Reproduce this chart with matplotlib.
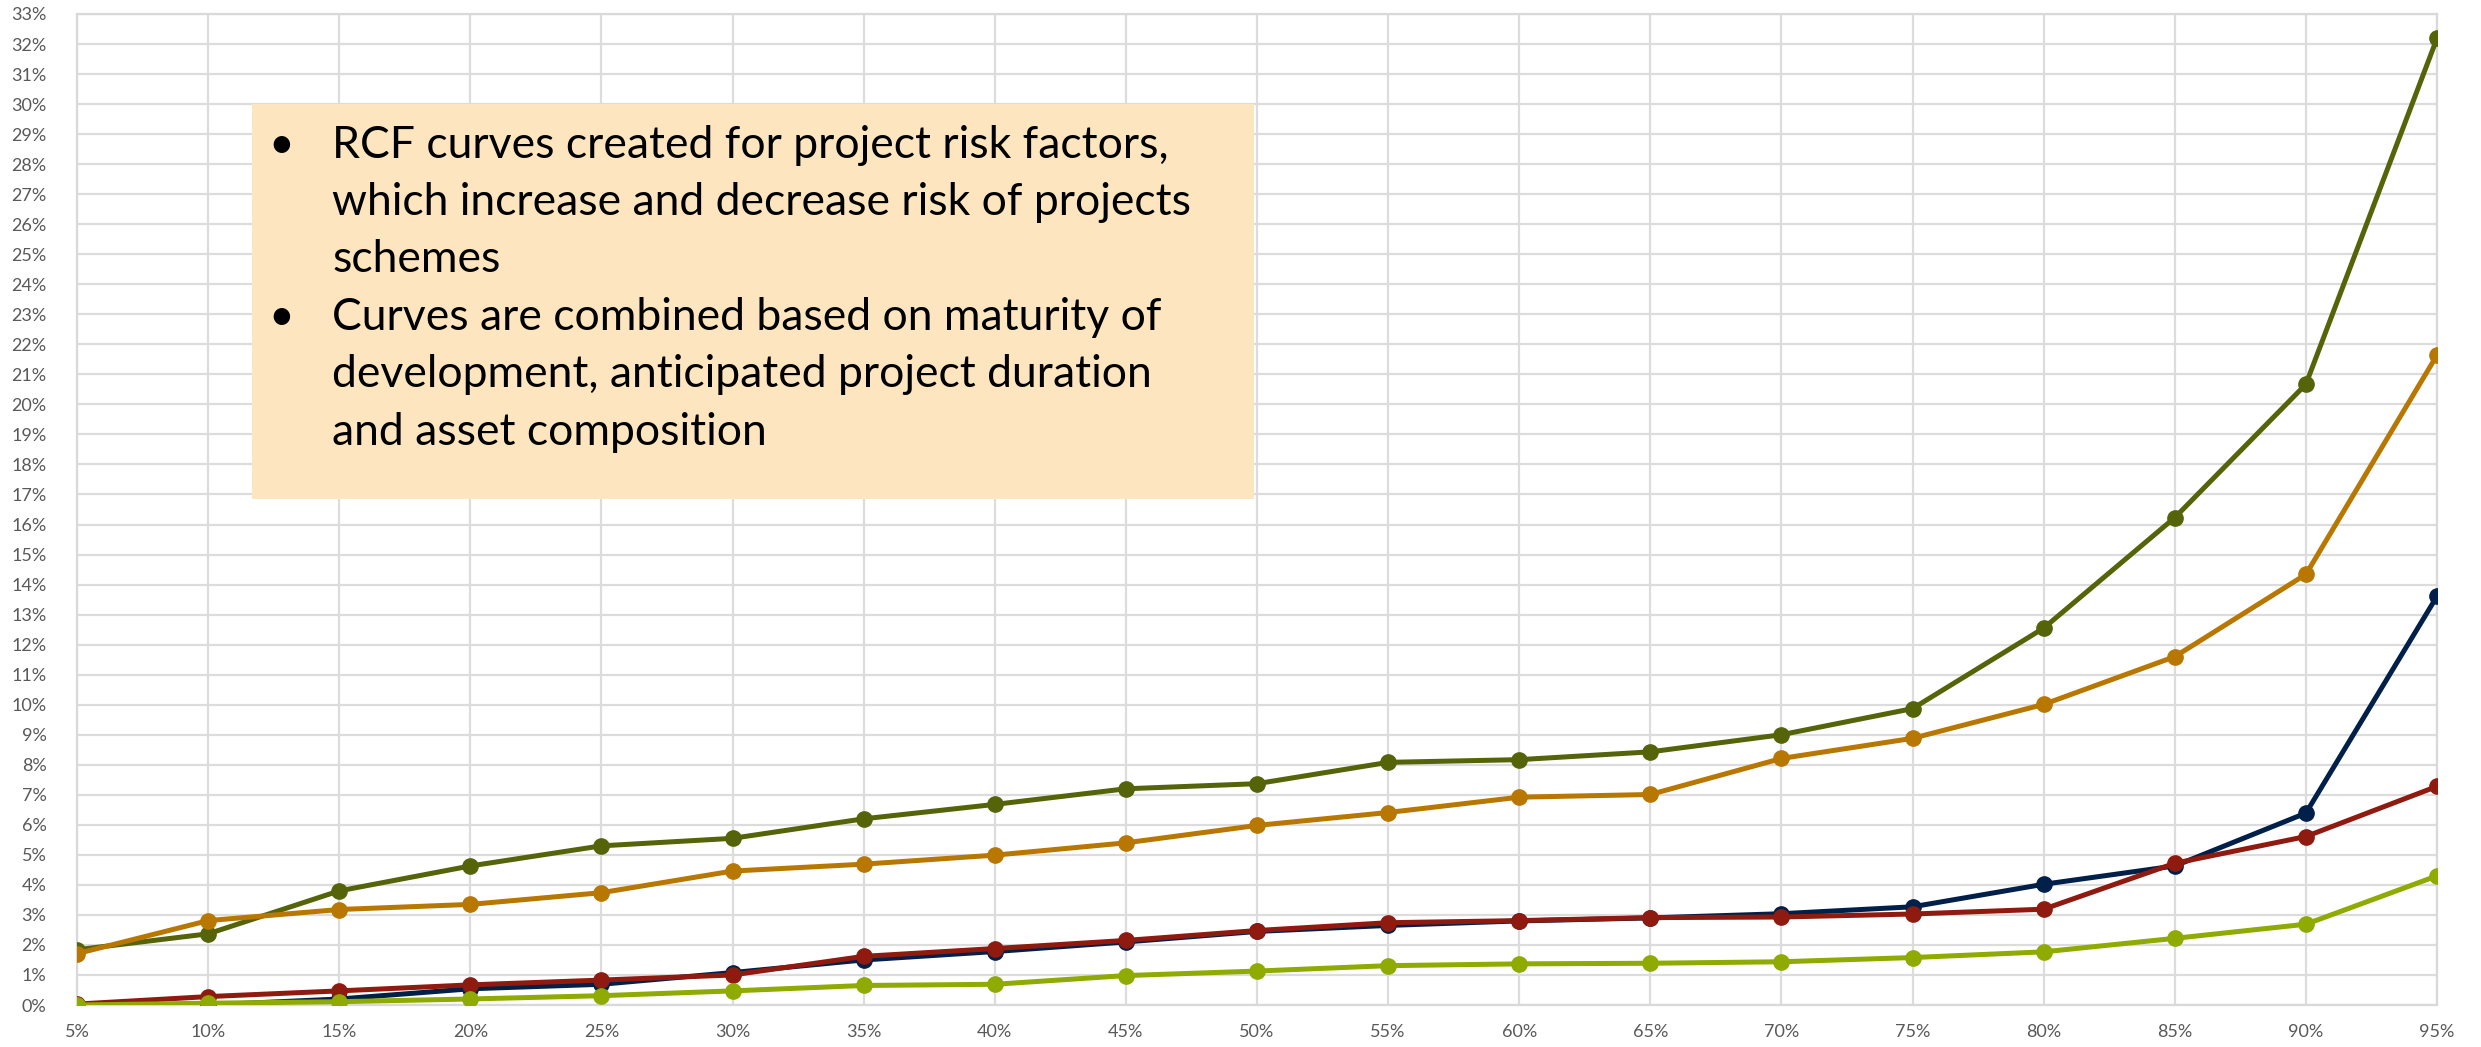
import numpy as np
import matplotlib
matplotlib.use('Agg')
import matplotlib.pyplot as plt
from matplotlib.patches import Rectangle
from matplotlib.ticker import FuncFormatter, MultipleLocator

plt.rcParams['font.family'] = ['Lato', 'DejaVu Sans']

categories = ['5%', '10%', '15%', '20%', '25%', '30%', '35%', '40%', '45%', '50%',
              '55%', '60%', '65%', '70%', '75%', '80%', '85%', '90%', '95%']

olive = [1.84, 2.37, 3.8, 4.63, 5.3, 5.55, 6.2, 6.68, 7.2, 7.37,
         8.08, 8.17, 8.43, 9.0, 9.87, 12.55, 16.23, 20.67, 32.19]
orange = [1.71, 2.81, 3.18, 3.35, 3.74, 4.46, 4.69, 4.99, 5.4, 5.98,
          6.41, 6.92, 7.01, 8.21, 8.88, 10.01, 11.6, 14.34, 21.64]
navy = [0.0, 0.0, 0.2, 0.54, 0.69, 1.08, 1.5, 1.78, 2.1, 2.45,
        2.65, 2.8, 2.9, 3.04, 3.27, 4.02, 4.63, 6.39, 13.61]
red = [0.03, 0.28, 0.47, 0.67, 0.83, 1.0, 1.62, 1.88, 2.15, 2.48,
       2.74, 2.81, 2.91, 2.93, 3.03, 3.19, 4.72, 5.61, 7.28]
lime = [0.0, 0.06, 0.11, 0.2, 0.31, 0.47, 0.65, 0.69, 0.98, 1.13,
        1.31, 1.37, 1.39, 1.44, 1.58, 1.77, 2.22, 2.69, 4.3]

series = [
    (olive, '#556309'),
    (orange, '#B87700'),
    (navy, '#00204A'),
    (red, '#8E1A10'),
    (lime, '#8FAA00'),
]

bullet_lines = [
    ['RCF curves created for project risk factors,',
     'which increase and decrease risk of projects',
     'schemes'],
    ['Curves are combined based on maturity of',
     'development, anticipated project duration',
     'and asset composition'],
]

W, H = 2481, 1047
fig = plt.figure(figsize=(W / 100, H / 100), dpi=100)
ax = fig.add_axes([77 / W, 1 - 1005 / H, (2437 - 77) / W, (1005 - 14) / H])

x = np.arange(len(categories))
for vals, col in series:
    ax.plot(x, vals, color=col, lw=3.6, marker='o', markersize=11,
            markeredgecolor=col, markerfacecolor=col, zorder=3)

ax.set_xlim(0, len(categories) - 1)
ax.set_ylim(0, 33)
ax.set_xticks(x)
ax.set_xticklabels(categories)
ax.yaxis.set_major_locator(MultipleLocator(1))
ax.yaxis.set_major_formatter(FuncFormatter(lambda v, p: '%d%%' % round(v)))
ax.grid(True, color='#DCDCDC', lw=1.6)
ax.set_axisbelow(True)
for s in ax.spines.values():
    s.set_color('#D9D9D9')
    s.set_linewidth(1.6)
ax.tick_params(axis='both', length=0, colors='#595959', labelsize=13)
ax.tick_params(axis='y', pad=22)
ax.tick_params(axis='x', pad=14)

# annotation box, positioned in figure pixels
box = Rectangle((252 / W, 1 - 499 / H), (1254 - 252) / W, (499 - 104) / H,
                transform=fig.transFigure, facecolor='#FDE6BF', edgecolor='none', zorder=5)
fig.patches.append(box)

baselines = [158, 215, 272, 330, 387, 445]
i = 0
for lines in bullet_lines:
    fig.text(281 / W, 1 - baselines[i] / H, '\u2022', fontsize=32, va='baseline',
             ha='center', color='black', zorder=6)
    for ln in lines:
        fig.text(332 / W, 1 - baselines[i] / H, ln, fontsize=32, va='baseline',
                 ha='left', color='black', zorder=6)
        i += 1

fig.savefig('out.png', dpi=100)
